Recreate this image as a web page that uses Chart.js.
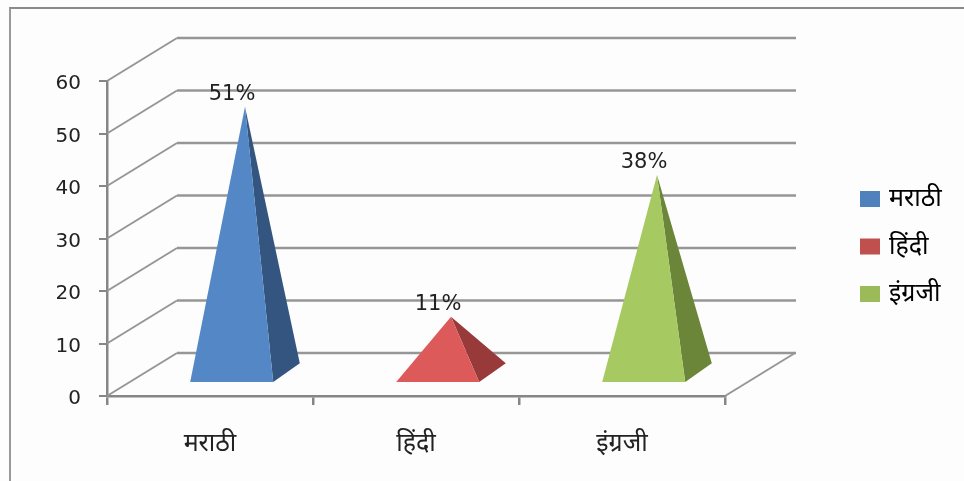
<!DOCTYPE html>
<html>
<head>
<meta charset="utf-8">
<script src="https://cdn.jsdelivr.net/npm/chart.js@4"></script>
<style>
    html, body { margin: 0; padding: 0; background: #fdfdfd; }
    #frame { position: absolute; left: 9px; top: 7px; width: 955px; height: 474px; box-sizing: border-box;
             border-left: 2px solid #9a9a9a; border-top: 2px solid #8a8a8a; }
    canvas { position: absolute; left: 0; top: 0; }
</style>
</head>
<body>
<div id="frame"></div>
<canvas id="chart" width="964" height="481"></canvas>
<script>
// Datos del grafico
const categories = ["मराठी", "हिंदी", "इंग्रजी"];
const percentValues = [51, 11, 38];
const frontColors = ["#5487c6", "#dc5b5a", "#a6c962"];
const sideColors = ["#34557f", "#983a3a", "#6b8539"];
const legendColors = ["#4f81bd", "#c0504d", "#9bbb59"];

const depthX = 70;
const depthY = 43;
const gridColor = "#969696";
const axisColor = "#868686";

function line(ctx, x1, y1, x2, y2, width) {
    ctx.lineWidth = width;
    ctx.beginPath();
    ctx.moveTo(x1, y1);
    ctx.lineTo(x2, y2);
    ctx.stroke();
}

// Paredes y piramides en falso 3D, a partir de las escalas
const pyramid3d = {
    id: "pyramid3d",
    afterLayout(chart) {
        // la leyenda va fuera del area del grafico
        chart.legend.left = 841;
        chart.legend.top = 164;
        chart.legend.right = 964;
        chart.legend.bottom = 481;
    },
    beforeDatasetsDraw(chart) {
        const ctx = chart.ctx;
        const { x, y } = chart.scales;
        const left = x.left, right = x.right, bottom = y.bottom;
        ctx.save();
        ctx.strokeStyle = gridColor;
        y.ticks.forEach(t => {
            const py = y.getPixelForValue(t.value);
            line(ctx, left, py, left + depthX, py - depthY, 2);
            line(ctx, left + depthX, py - depthY, right + depthX + 1, py - depthY, 2.5);
        });
        line(ctx, right, bottom, right + depthX, bottom - depthY, 2);
        ctx.restore();
    },
    afterDatasetsDraw(chart) {
        const ctx = chart.ctx;
        const bars = chart.getDatasetMeta(0).data;
        bars.forEach((bar, i) => {
            const half = bar.width / 2;
            const frontX = bar.x + depthX * 0.31;
            const frontY = bar.base - depthY * 0.3;
            const backX = bar.x + depthX * 0.69;
            const backY = bar.base - depthY * 0.74;
            const apexX = bar.x + depthX * 0.5;
            const apexY = bar.y - depthY * 0.5;

            ctx.fillStyle = sideColors[i];
            ctx.beginPath();
            ctx.moveTo(frontX + half, frontY);
            ctx.lineTo(backX + half, backY);
            ctx.lineTo(apexX, apexY);
            ctx.closePath();
            ctx.fill();

            ctx.fillStyle = frontColors[i];
            ctx.beginPath();
            ctx.moveTo(frontX - half, frontY);
            ctx.lineTo(frontX + half, frontY);
            ctx.lineTo(apexX, apexY);
            ctx.closePath();
            ctx.fill();

            ctx.fillStyle = "#222";
            ctx.font = "21px 'DejaVu Sans'";
            ctx.textAlign = "center";
            ctx.textBaseline = "middle";
            ctx.fillText(percentValues[i] + "%", apexX - 13, apexY - 12);
        });
    }
};

new Chart(document.getElementById("chart"), {
    type: "bar",
    data: {
        labels: categories,
        datasets: [{
            data: percentValues,
            backgroundColor: "transparent",
            categoryPercentage: 1,
            barPercentage: 0.403
        }]
    },
    options: {
        responsive: false,
        animation: false,
        layout: { padding: { top: 81, right: 239, left: 0, bottom: 0 } },
        scales: {
            x: {
                afterFit(scale) { scale.height = 85; },
                grid: { offset: true, drawOnChartArea: false, color: axisColor, lineWidth: 2.5, tickLength: 9 },
                border: { color: axisColor, width: 2.5 },
                ticks: { color: "#222", padding: 24, font: { family: "'Noto Sans', 'DejaVu Sans'", size: 25 } }
            },
            y: {
                min: 0,
                max: 60,
                afterFit(scale) { scale.width = 107; },
                grid: { drawOnChartArea: false, color: axisColor, lineWidth: 2, tickLength: 8 },
                border: { color: axisColor, width: 2.5 },
                ticks: { stepSize: 10, color: "#222", padding: 18, labelOffset: 3, font: { family: "'DejaVu Sans'", size: 20 } }
            }
        },
        plugins: {
            tooltip: { enabled: false },
            legend: {
                position: "chartArea",
                align: "start",
                labels: {
                    // caja chica + borde grueso: deja el texto mas cerca de la caja
                    boxWidth: 13,
                    boxHeight: 9,
                    padding: 22.5,
                    color: "#222",
                    font: { family: "'Noto Sans', 'DejaVu Sans'", size: 25 },
                    generateLabels() {
                        return categories.map((name, i) => ({
                            text: name,
                            fillStyle: legendColors[i],
                            strokeStyle: legendColors[i],
                            lineWidth: 7
                        }));
                    }
                }
            }
        }
    },
    plugins: [pyramid3d]
});
</script>
</body>
</html>
